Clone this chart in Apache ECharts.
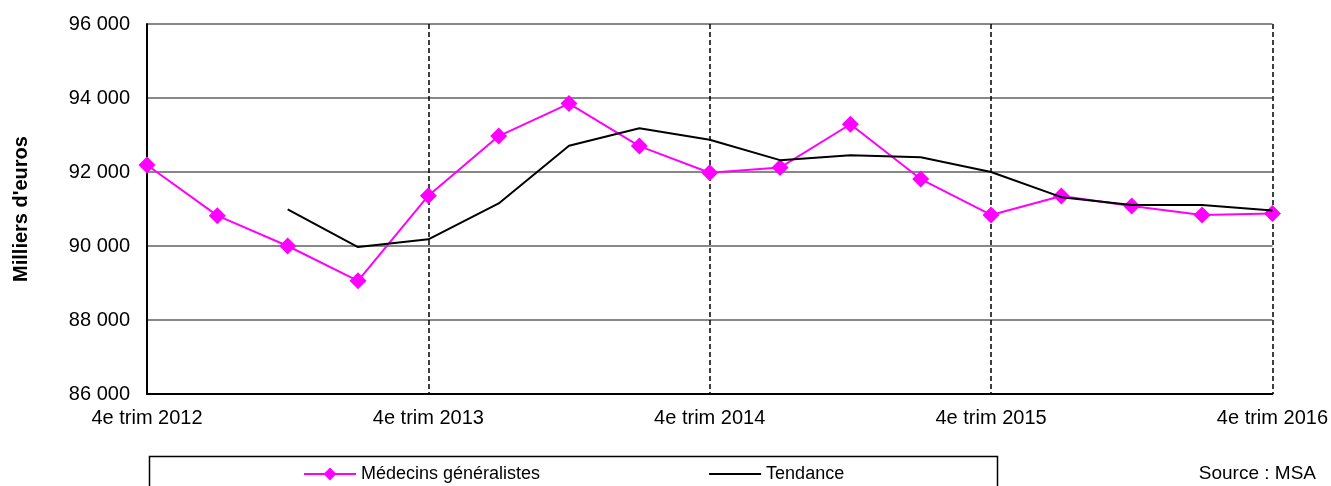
<!DOCTYPE html>
<html>
<head>
<meta charset="utf-8">
<script src="https://cdn.jsdelivr.net/npm/echarts@6/dist/echarts.min.js"></script>
<style>
  html, body { margin: 0; padding: 0; background: #fff; }
  #chart { width: 1331px; height: 486px; }
</style>
</head>
<body>
<div id="chart"></div>
<script>
// Quarters from 4th quarter 2012 to 4th quarter 2016
var quarters = [
  '4e trim 2012', '1er trim 2013', '2e trim 2013', '3e trim 2013',
  '4e trim 2013', '1er trim 2014', '2e trim 2014', '3e trim 2014',
  '4e trim 2014', '1er trim 2015', '2e trim 2015', '3e trim 2015',
  '4e trim 2015', '1er trim 2016', '2e trim 2016', '3e trim 2016',
  '4e trim 2016'
];

// Médecins généralistes (milliers d'euros)
var generalistes = [
  92190, 90820, 90000, 89060, 91360, 92970, 93850, 92700, 91980,
  92120, 93290, 91810, 90840, 91350, 91080, 90840, 90880
];

// Tendance (moyenne mobile)
var tendance = [
  null, null, 90990, 89970, 90180, 91150, 92710, 93180, 92870,
  92320, 92450, 92400, 92000, 91320, 91110, 91110, 90960
];

var yTicks = { min: 86000, max: 96000, step: 2000 };

function fmtThousands(v) {
  return String(v).replace(/\B(?=(\d{3})+(?!\d))/g, ' ');
}

var chart = echarts.init(document.getElementById('chart'), null, { renderer: 'canvas' });

var font = 'Liberation Sans, Arial, sans-serif';

chart.setOption({
  animation: false,
  backgroundColor: '#ffffff',
  grid: { left: 147, right: 58, top: 24, bottom: 92, containLabel: false },
  legend: {
    left: 303,
    top: 465,
    padding: 0,
    itemWidth: 52,
    itemHeight: 16,
    itemGap: 168,
    textStyle: { fontFamily: font, fontSize: 18, color: '#000' },
    data: [
      { name: 'Médecins généralistes' },
      { name: 'Tendance', itemStyle: { opacity: 0 } }
    ]
  },
  xAxis: {
    type: 'category',
    data: quarters,
    boundaryGap: false,
    axisLine: { show: true, lineStyle: { color: '#000', width: 2 } },
    axisTick: { show: false },
    axisLabel: {
      interval: 3,
      margin: 14,
      fontFamily: font,
      fontSize: 20,
      color: '#000'
    },
    splitLine: {
      show: true,
      interval: 3,
      lineStyle: { color: '#000', width: 1.5, type: [5, 3] }
    }
  },
  yAxis: {
    type: 'value',
    min: yTicks.min,
    max: yTicks.max,
    interval: yTicks.step,
    name: "Milliers d'euros",
    nameLocation: 'middle',
    nameRotate: 90,
    nameGap: 116,
    nameTextStyle: { fontFamily: font, fontSize: 20, fontWeight: 'bold', color: '#000' },
    axisLine: { show: true, lineStyle: { color: '#000', width: 2 } },
    axisTick: { show: false },
    axisLabel: {
      margin: 17,
      fontFamily: font,
      fontSize: 20,
      color: '#000',
      formatter: fmtThousands
    },
    splitLine: { show: true, lineStyle: { color: '#888', width: 2 } }
  },
  series: [
    {
      name: 'Médecins généralistes',
      type: 'line',
      data: generalistes,
      symbol: 'diamond',
      symbolSize: 17,
      showAllSymbol: true,
      itemStyle: { color: '#ff00ff' },
      lineStyle: { color: '#ff00ff', width: 2 },
      z: 3
    },
    {
      name: 'Tendance',
      type: 'line',
      data: tendance,
      symbol: 'none',
      connectNulls: false,
      itemStyle: { color: '#000' },
      lineStyle: { color: '#000', width: 2 },
      z: 4
    }
  ],
  graphic: [
    {
      type: 'rect',
      left: 147,
      top: 454,
      shape: { width: 848, height: 45 },
      style: { fill: 'none', stroke: '#000', lineWidth: 1.5 },
      silent: true
    },
    {
      type: 'text',
      right: 15,
      top: 464,
      style: { text: 'Source : MSA', fontFamily: font, fontSize: 19, fill: '#000' }
    }
  ]
});
</script>
</body>
</html>
